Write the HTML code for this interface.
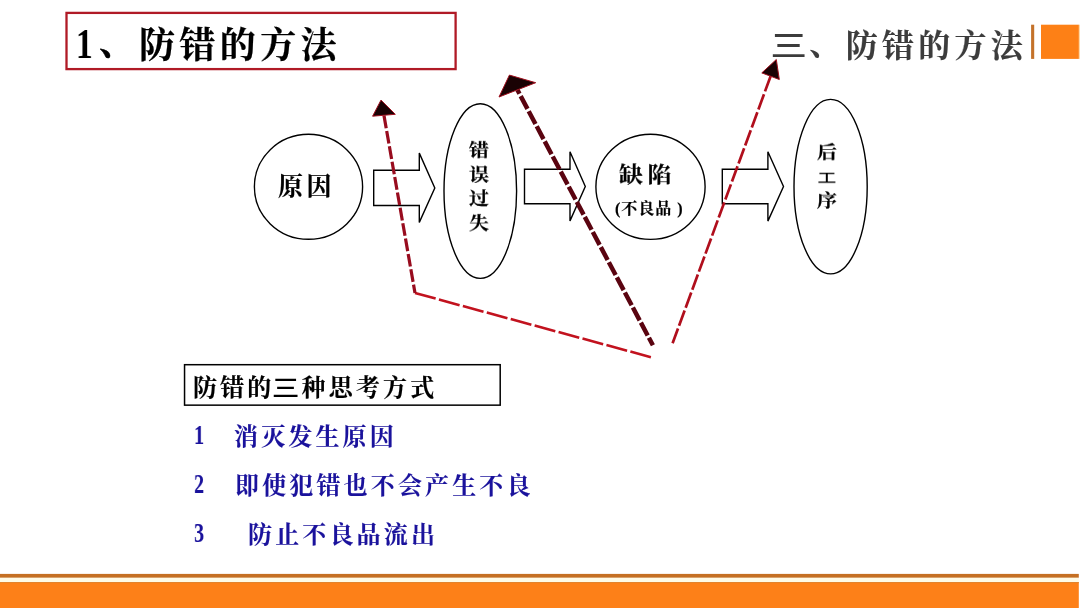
<!DOCTYPE html>
<html lang="zh-CN">
<head>
<meta charset="utf-8">
<title>防错的方法</title>
<style>
html,body{margin:0;padding:0;background:#fff;}
body{width:1080px;height:608px;position:relative;overflow:hidden;font-family:"Liberation Serif","Noto Serif CJK SC",serif;}
.abs{position:absolute;white-space:nowrap;line-height:1;will-change:transform;}
.k{font-family:"Liberation Serif","Noto Serif CJK SC",serif;font-weight:700;}
h1,h2,p,ol,li{margin:0;padding:0;font-size:inherit;list-style:none;}
#titlewrap{left:0;top:0;width:0;height:0;}
.item{left:0;top:0;width:0;height:0;}
#shapes{position:absolute;left:0;top:0;}
#title{left:138.5px;top:27.5px;font-size:36px;letter-spacing:4.4px;color:#000;-webkit-text-stroke:0.25px #000;}
#t1{left:75.6px;top:23px;font-size:42px;color:#000;transform:scaleX(0.8);transform-origin:left top;}
#t2{left:98.5px;top:24.5px;font-size:36px;color:#000;-webkit-text-stroke:0.4px #000;}
#hdr{left:773px;top:29.5px;font-size:32px;letter-spacing:4.3px;color:#3c3c3c;-webkit-text-stroke:0.15px #3c3c3c;}
#c1{left:277.5px;top:174px;font-size:25px;letter-spacing:3.5px;-webkit-text-stroke:0.2px #000;}
#c3a{left:619px;top:162.5px;font-size:24px;letter-spacing:4.5px;-webkit-text-stroke:0.2px #000;transform:scaleY(0.9);transform-origin:left center;}
#c3b{left:615px;top:200.5px;font-size:16px;letter-spacing:1px;-webkit-text-stroke:0.2px #000;}
.v{width:24px;text-align:center;font-size:20px;line-height:27.7px;white-space:normal;-webkit-text-stroke:0.25px #000;transform:scaleY(0.88);transform-origin:center top;}
#e2{left:466.8px;top:138.5px;}
#e4{left:814.7px;top:140.5px;}
#boxt{left:193.3px;top:376.3px;font-size:24px;letter-spacing:3.15px;-webkit-text-stroke:0.15px #000;}
.li{color:#1a129c;font-size:24px;letter-spacing:3.15px;-webkit-text-stroke:0.1px #1a129c;}
.h{font-family:"Liberation Sans","Noto Sans CJK SC",sans-serif;font-weight:500;-webkit-text-stroke-width:0;}
.w{display:inline-block;transform:scale(1.14,0.94);}
.c{position:relative;top:-2px;}
.g{display:inline-block;transform:scale(0.94,0.76);}
.n{-webkit-text-stroke:0.15px #1a129c;color:#1a129c;font-size:27px;font-family:"Liberation Serif",serif;font-weight:700;transform:scaleX(0.74);transform-origin:left top;}
</style>
</head>
<body>
<svg id="shapes" width="1080" height="608" viewBox="0 0 1080 608">
  <!-- top-right accent -->
  <rect x="1031.1" y="24.7" width="3.1" height="34.2" fill="#c4722a"/>
  <rect x="1041" y="24.7" width="37.9" height="34.2" fill="#fd8016"/>
  <rect x="1078.9" y="24.7" width="1.1" height="34.2" fill="#ffd9a8"/>
  <!-- bottom bar -->
  <rect x="0" y="573.9" width="1078.8" height="3.9" fill="#c56f22"/>
  <rect x="0" y="577.8" width="1078.8" height="4.3" fill="#fffbe6"/>
  <rect x="0" y="582.1" width="1078.8" height="26" fill="#fd8018"/>
  <rect x="0" y="582.1" width="1078.8" height="1" fill="#e0822c"/>
  <!-- boxes -->
  <rect x="66.5" y="12.9" width="389.1" height="56.2" fill="none" stroke="#b01a26" stroke-width="2.3"/>
  <rect x="184.55" y="364.7" width="315.65" height="40.45" fill="none" stroke="#000" stroke-width="1.5"/>
  <!-- nodes -->
  <g fill="#fff" stroke="#000" stroke-width="1.4">
    <ellipse cx="308.5" cy="186.8" rx="54.1" ry="52.5"/>
    <ellipse cx="480.3" cy="191.05" rx="36.3" ry="87.35"/>
    <ellipse cx="650.5" cy="186.8" rx="54.6" ry="52.6"/>
    <ellipse cx="830.6" cy="186.65" rx="36.6" ry="87.25"/>
    <path d="M373.7 170.3 H419.3 V153.1 L434.8 188 L419.3 222.4 V205.5 H373.7 Z"/>
    <path d="M524.5 169.3 H570 V151.8 L585.3 186.5 L570 220.9 V203.8 H524.5 Z"/>
    <path d="M722.3 169.3 H767.9 V151.8 L783.5 186.5 L767.9 221.1 V203.8 H722.3 Z"/>
  </g>
  <!-- dashed arrows -->
  <g fill="none">
    <path d="M415 293 L650.9 357.2" stroke="#c2121e" stroke-width="2.6" stroke-dasharray="21.4 3.4"/>
    <path d="M384 115.6 L415 293" stroke="#980c1e" stroke-width="3.2" stroke-dasharray="12.8 2.8"/>
    <path d="M517.4 89.9 L652.9 345.3" stroke="#5a0410" stroke-width="4.5" stroke-dasharray="14.5 2.6" stroke-dashoffset="10.1"/>
    <path d="M770.6 76.2 L672.6 343.3" stroke="#b00e1c" stroke-width="2.7" stroke-dasharray="16.2 3"/>
  </g>
  <g fill="#1a0204" stroke="#a0101e" stroke-width="1" stroke-linejoin="round">
    <path d="M381 100.1 L372.6 116.2 L395.3 114.3 Z"/>
    <path d="M509.4 75.1 L499 97 L535.7 82.7 Z"/>
    <path d="M776.3 59.5 L761.8 72.9 L779.3 79.5 Z"/>
  </g>
</svg>

<h1 class="abs k" id="titlewrap"><span class="abs" id="t1">1</span><span class="abs" id="t2">、</span><span class="abs" id="title">防错的方法</span></h1>
<h2 class="abs k" id="hdr"><span class="h w">三</span><span class="c">、</span>防错的方法</h2>

<div class="abs k" id="c1">原因</div>
<div class="abs k v" id="e2">错误过失</div>
<div class="abs k" id="c3a">缺陷</div>
<div class="abs k" id="c3b">(不良品 )</div>
<div class="abs k v" id="e4">后<span class="h g">工</span>序</div>

<div class="abs k" id="boxt">防错的<span class="h w">三</span>种思考方式</div>

<ol>
<li class="abs item"><span class="abs n" style="left:193.5px;top:422px;">1</span><span class="abs k li" style="left:234px;top:424.5px;">消灭发生原因</span></li>
<li class="abs item"><span class="abs n" style="left:193.5px;top:470.6px;">2</span><span class="abs k li" style="left:234.5px;top:473.5px;">即使犯错也不会产生不良</span></li>
<li class="abs item"><span class="abs n" style="left:194px;top:520px;">3</span><span class="abs k li" style="left:248px;top:523px;">防止不良品流出</span></li>
</ol>
</body>
</html>
